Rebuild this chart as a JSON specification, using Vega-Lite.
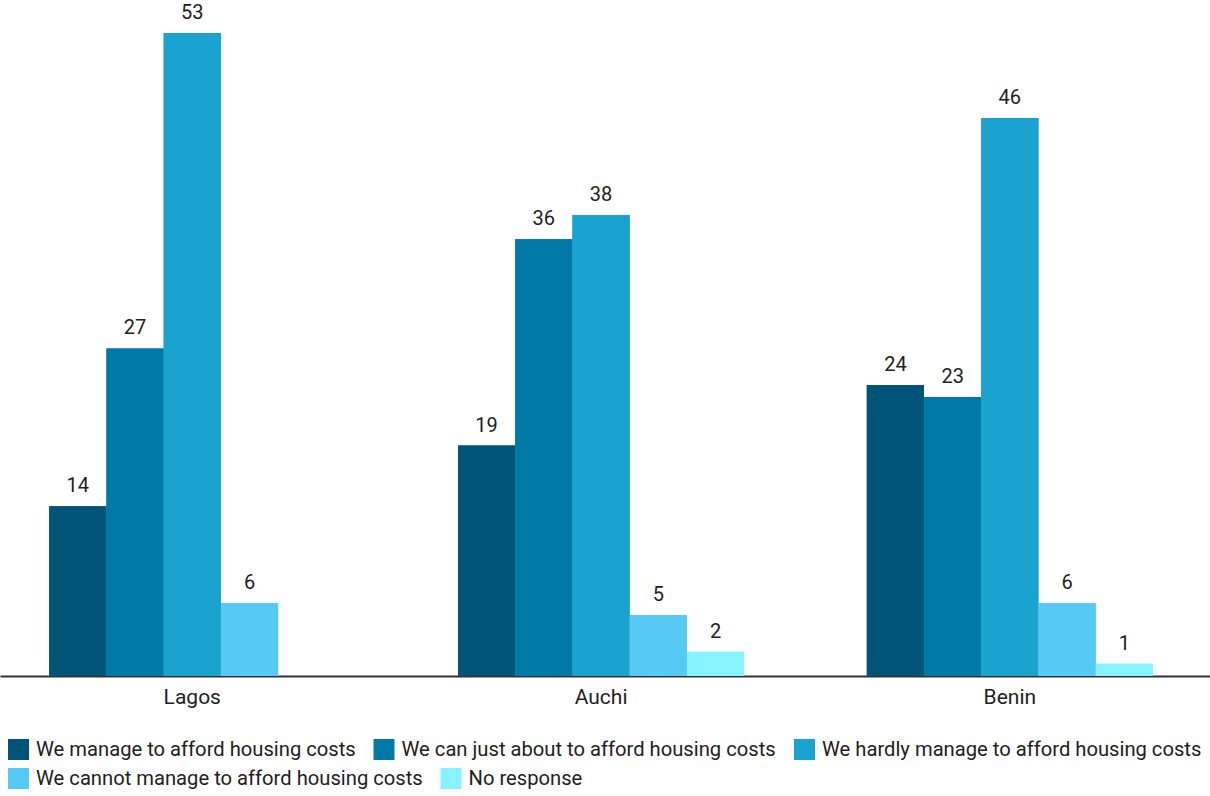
{
  "$schema": "https://vega.github.io/schema/vega-lite/v6.json",
  "width": 1210,
  "height": 676,
  "padding": {"left": 0, "top": 0, "right": 0, "bottom": 120},
  "autosize": {"type": "none"},
  "background": "white",
  "config": {
    "font": "Roboto",
    "view": {"stroke": null},
    "legend": {
      "title": null,
      "orient": "none",
      "direction": "horizontal",
      "symbolType": "square",
      "symbolSize": 441,
      "symbolStrokeWidth": 0,
      "labelFontSize": 20.2,
      "labelColor": "#222222",
      "labelLimit": 0,
      "labelOffset": 7,
      "columnPadding": 17.5
    }
  },
  "data": {
    "values": [
      {"city": "Lagos", "response": "We manage to afford housing costs", "value": 14},
      {"city": "Lagos", "response": "We can just about to afford housing costs", "value": 27},
      {"city": "Lagos", "response": "We hardly manage to afford housing costs", "value": 53},
      {"city": "Lagos", "response": "We cannot manage to afford housing costs", "value": 6},
      {"city": "Auchi", "response": "We manage to afford housing costs", "value": 19},
      {"city": "Auchi", "response": "We can just about to afford housing costs", "value": 36},
      {"city": "Auchi", "response": "We hardly manage to afford housing costs", "value": 38},
      {"city": "Auchi", "response": "We cannot manage to afford housing costs", "value": 5},
      {"city": "Auchi", "response": "No response", "value": 2},
      {"city": "Benin", "response": "We manage to afford housing costs", "value": 24},
      {"city": "Benin", "response": "We can just about to afford housing costs", "value": 23},
      {"city": "Benin", "response": "We hardly manage to afford housing costs", "value": 46},
      {"city": "Benin", "response": "We cannot manage to afford housing costs", "value": 6},
      {"city": "Benin", "response": "No response", "value": 1}
    ]
  },
  "encoding": {
    "x": {
      "field": "city",
      "type": "nominal",
      "sort": ["Lagos", "Auchi", "Benin"],
      "scale": {"paddingInner": 0.3, "paddingOuter": 0.13, "align": 0.463},
      "axis": {
        "title": null,
        "labelAngle": 0,
        "ticks": false,
        "labelPadding": 10,
        "labelFontSize": 21,
        "labelColor": "#222222",
        "domainColor": "#333333",
        "domainWidth": 2,
        "grid": false
      }
    },
    "xOffset": {
      "field": "response",
      "type": "nominal",
      "sort": [
        "We manage to afford housing costs",
        "We can just about to afford housing costs",
        "We hardly manage to afford housing costs",
        "We cannot manage to afford housing costs",
        "No response"
      ],
      "scale": {"paddingInner": 0, "paddingOuter": 0}
    },
    "y": {
      "field": "value",
      "type": "quantitative",
      "scale": {"domain": [0, 55.73], "nice": false},
      "axis": null
    }
  },
  "layer": [
    {
      "mark": {"type": "bar"},
      "encoding": {
        "color": {
          "field": "response",
          "type": "nominal",
          "sort": [
            "We manage to afford housing costs",
            "We can just about to afford housing costs",
            "We hardly manage to afford housing costs",
            "We cannot manage to afford housing costs",
            "No response"
          ],
          "scale": {"range": ["#00547A", "#0079A6", "#1BA3D0", "#56C9F5", "#87F3FF"]},
          "legend": {
            "legendX": 8,
            "legendY": 739,
            "values": [
              "We manage to afford housing costs",
              "We can just about to afford housing costs",
              "We hardly manage to afford housing costs"
            ]
          }
        }
      }
    },
    {
      "mark": {"type": "bar"},
      "encoding": {
        "color": {
          "field": "response",
          "type": "nominal",
          "sort": [
            "We manage to afford housing costs",
            "We can just about to afford housing costs",
            "We hardly manage to afford housing costs",
            "We cannot manage to afford housing costs",
            "No response"
          ],
          "scale": {"range": ["#00547A", "#0079A6", "#1BA3D0", "#56C9F5", "#87F3FF"]},
          "legend": {
            "legendX": 8,
            "legendY": 768,
            "values": [
              "We cannot manage to afford housing costs",
              "No response"
            ]
          }
        }
      }
    },
    {
      "mark": {"type": "text", "baseline": "alphabetic", "dy": -14, "fontSize": 20, "color": "#222222"},
      "encoding": {
        "text": {"field": "value", "type": "quantitative"}
      }
    }
  ],
  "resolve": {"scale": {"color": "independent"}}
}
